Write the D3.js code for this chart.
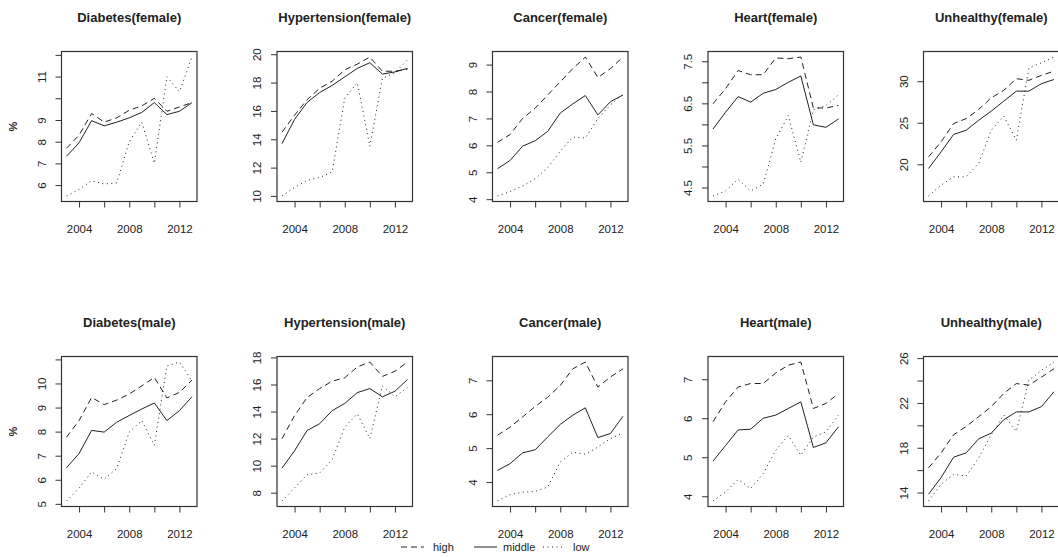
<!DOCTYPE html>
<html><head><meta charset="utf-8">
<script src="https://cdn.jsdelivr.net/npm/d3@7"></script>
<style>
body{margin:0;background:#fff}
svg text{font-family:"Liberation Sans",Arial,sans-serif;fill:#222}
</style>
</head><body>
<svg id="c" width="1058" height="557"></svg>
<script>
// ---------------- data ----------------
const years = [2003,2004,2005,2006,2007,2008,2009,2010,2011,2012,2013];
const xTicks = [2004,2006,2008,2010,2012];
const xTickLabels = ["2004","","2008","","2012"];
const diseases = ["Diabetes","Hypertension","Cancer","Heart","Unhealthy"];
const sexes = ["female","male"];
const seriesNames = ["high","middle","low"];

const diabetesFemaleHigh   = [7.7,8.3,9.3,8.9,9.1,9.45,9.65,10.0,9.4,9.6,9.8];
const diabetesFemaleMiddle = [7.33,7.95,8.97,8.73,8.9,9.1,9.35,9.8,9.25,9.4,9.8];
const diabetesFemaleLow    = [5.5,5.8,6.2,6.05,6.1,8.0,8.9,7.0,11.0,10.3,11.9];

const hypertensionFemaleHigh   = [14.5,15.7,16.8,17.6,18.1,18.9,19.3,19.8,18.8,18.8,18.95];
const hypertensionFemaleMiddle = [13.7,15.4,16.6,17.3,17.8,18.4,19.0,19.4,18.6,18.75,19.0];
const hypertensionFemaleLow    = [10.0,10.6,11.1,11.3,11.7,16.9,18.0,13.5,18.3,18.7,19.6];

const cancerFemaleHigh   = [6.11,6.4,7.0,7.38,7.87,8.36,8.85,9.28,8.52,8.85,9.28];
const cancerFemaleMiddle = [5.13,5.44,5.97,6.17,6.52,7.2,7.54,7.85,7.13,7.62,7.87];
const cancerFemaleLow    = [4.12,4.28,4.49,4.76,5.17,5.78,6.31,6.27,7.0,7.5,7.9];

const heartFemaleHigh   = [6.49,6.85,7.28,7.18,7.18,7.58,7.56,7.6,6.39,6.39,6.45];
const heartFemaleMiddle = [5.89,6.29,6.66,6.53,6.74,6.83,7.0,7.15,5.99,5.93,6.13];
const heartFemaleLow    = [4.3,4.42,4.7,4.42,4.58,5.65,6.21,5.1,6.35,6.45,6.7];

const unhealthyFemaleHigh   = [20.9,22.7,24.9,25.5,26.6,28.0,28.9,30.3,30.1,30.7,31.2];
const unhealthyFemaleMiddle = [19.5,21.5,23.6,24.1,25.3,26.4,27.6,28.8,28.8,29.7,30.2];
const unhealthyFemaleLow    = [16.2,17.5,18.5,18.5,20.1,24.1,25.8,22.9,31.6,32.2,32.9];

const diabetesMaleHigh   = [7.77,8.46,9.42,9.12,9.31,9.56,9.9,10.25,9.4,9.63,10.14];
const diabetesMaleMiddle = [6.5,7.09,8.05,7.98,8.39,8.67,8.94,9.19,8.46,8.87,9.45];
const diabetesMaleLow    = [5.12,5.65,6.33,6.02,6.47,7.98,8.46,7.43,10.73,10.89,10.11];

const hypertensionMaleHigh   = [12.0,13.7,15.04,15.7,16.25,16.5,17.3,17.66,16.6,16.98,17.66];
const hypertensionMaleMiddle = [9.82,11.1,12.6,13.1,14.07,14.6,15.4,15.7,15.09,15.5,16.37];
const hypertensionMaleLow    = [7.39,8.36,9.33,9.46,10.43,12.85,13.83,12.0,15.9,15.09,15.77];

const cancerMaleHigh   = [5.38,5.62,5.92,6.23,6.5,6.85,7.34,7.54,6.8,7.1,7.34];
const cancerMaleMiddle = [4.34,4.54,4.86,4.95,5.33,5.7,5.97,6.19,5.31,5.43,5.94];
const cancerMaleLow    = [3.44,3.63,3.7,3.72,3.85,4.59,4.88,4.82,5.03,5.28,5.45];

const heartMaleHigh   = [5.91,6.42,6.8,6.89,6.89,7.16,7.36,7.44,6.25,6.38,6.63];
const heartMaleMiddle = [4.9,5.3,5.7,5.72,6.0,6.08,6.25,6.42,5.25,5.37,5.78];
const heartMaleLow    = [3.88,4.11,4.43,4.2,4.58,5.18,5.56,5.05,5.52,5.65,6.08];

const unhealthyMaleHigh   = [16.2,17.54,19.16,19.9,20.78,21.67,22.85,23.73,23.59,24.3,25.06];
const unhealthyMaleMiddle = [13.85,15.33,17.16,17.54,18.8,19.3,20.5,21.2,21.2,21.67,23.0];
const unhealthyMaleLow    = [13.25,14.74,15.62,15.47,17.1,19.16,20.93,19.46,24.03,24.9,25.65];

// y-axis ticks and the labels R kept visible
const diabetesFemaleTicks = [6,7,8,9,10,11,12];
const diabetesFemaleTickLabels = ["6","7","8","9","","11",""];
const hypertensionFemaleTicks = [10,12,14,16,18,20];
const hypertensionFemaleTickLabels = ["10","12","14","16","18","20"];
const cancerFemaleTicks = [4,5,6,7,8,9];
const cancerFemaleTickLabels = ["4","5","6","7","8","9"];
const heartFemaleTicks = [4.5,5,5.5,6,6.5,7,7.5];
const heartFemaleTickLabels = ["4.5","","5.5","","6.5","","7.5"];
const unhealthyFemaleTicks = [20,25,30];
const unhealthyFemaleTickLabels = ["20","25","30"];
const diabetesMaleTicks = [5,6,7,8,9,10,11];
const diabetesMaleTickLabels = ["5","6","7","8","9","10",""];
const hypertensionMaleTicks = [8,10,12,14,16,18];
const hypertensionMaleTickLabels = ["8","10","12","14","16","18"];
const cancerMaleTicks = [4,5,6,7];
const cancerMaleTickLabels = ["4","5","6","7"];
const heartMaleTicks = [4,5,6,7];
const heartMaleTickLabels = ["4","5","6","7"];
const unhealthyMaleTicks = [14,16,18,20,22,24,26];
const unhealthyMaleTickLabels = ["14","","18","","22","","26"];

const yLabel = "%";

// ---------------- assemble ----------------
const panelData = {
  "Diabetes|female": [[diabetesFemaleHigh,diabetesFemaleMiddle,diabetesFemaleLow],diabetesFemaleTicks,diabetesFemaleTickLabels],
  "Hypertension|female": [[hypertensionFemaleHigh,hypertensionFemaleMiddle,hypertensionFemaleLow],hypertensionFemaleTicks,hypertensionFemaleTickLabels],
  "Cancer|female": [[cancerFemaleHigh,cancerFemaleMiddle,cancerFemaleLow],cancerFemaleTicks,cancerFemaleTickLabels],
  "Heart|female": [[heartFemaleHigh,heartFemaleMiddle,heartFemaleLow],heartFemaleTicks,heartFemaleTickLabels],
  "Unhealthy|female": [[unhealthyFemaleHigh,unhealthyFemaleMiddle,unhealthyFemaleLow],unhealthyFemaleTicks,unhealthyFemaleTickLabels],
  "Diabetes|male": [[diabetesMaleHigh,diabetesMaleMiddle,diabetesMaleLow],diabetesMaleTicks,diabetesMaleTickLabels],
  "Hypertension|male": [[hypertensionMaleHigh,hypertensionMaleMiddle,hypertensionMaleLow],hypertensionMaleTicks,hypertensionMaleTickLabels],
  "Cancer|male": [[cancerMaleHigh,cancerMaleMiddle,cancerMaleLow],cancerMaleTicks,cancerMaleTickLabels],
  "Heart|male": [[heartMaleHigh,heartMaleMiddle,heartMaleLow],heartMaleTicks,heartMaleTickLabels],
  "Unhealthy|male": [[unhealthyMaleHigh,unhealthyMaleMiddle,unhealthyMaleLow],unhealthyMaleTicks,unhealthyMaleTickLabels]
};

// ---------------- layout ----------------
const svg = d3.select("#c");
const colStep = 215.5, left0 = 61.5, boxW = 135.5, boxH = 150;
const rowTops = [51.5, 356.5];
const dashes = {high:"6,4", middle:null, low:"1,3.5"};
const ink = "#222";

function pad(ext){ const r = ext[1]-ext[0]; return [ext[0]-0.04*r, ext[1]+0.04*r]; }

sexes.forEach((sex, r) => {
  diseases.forEach((dis, c) => {
    const [series, ticks, tickLabels] = panelData[dis+"|"+sex];
    const x0 = left0 + c*colStep, y0 = rowTops[r];
    const g = svg.append("g").attr("transform",`translate(${x0},${y0})`);
    const x = d3.scaleLinear().domain(pad(d3.extent(years))).range([0,boxW]);
    const allVals = series.flat();
    const y = d3.scaleLinear().domain(pad(d3.extent(allVals))).range([boxH,0]);

    // lines
    const line = d3.line().x((d,i)=>x(years[i])).y(d=>y(d));
    series.forEach((s, k) => {
      g.append("path").datum(s).attr("d", line)
        .attr("fill","none").attr("stroke", ink).attr("stroke-width",1)
        .attr("stroke-dasharray", dashes[seriesNames[k]]);
    });

    // box
    g.append("rect").attr("x",0).attr("y",0).attr("width",boxW).attr("height",boxH)
      .attr("fill","none").attr("stroke","#333").attr("stroke-width",1.2);

    // x axis
    const xa = g.append("g").attr("transform",`translate(0,${boxH})`)
      .call(d3.axisBottom(x).tickValues(xTicks).tickSize(6)
        .tickFormat((d,i)=>xTickLabels[i]));
    xa.select(".domain").remove();
    xa.selectAll("line").attr("stroke","#333");
    xa.selectAll("text").attr("y",31).attr("dy",0).attr("font-size",11.5)
      .attr("font-family",null).attr("fill","#333");

    // y axis
    const ya = g.append("g")
      .call(d3.axisLeft(y).tickValues(ticks).tickSize(6)
        .tickFormat((d,i)=>tickLabels[i]));
    ya.select(".domain").remove();
    ya.selectAll("line").attr("stroke","#333");
    ya.selectAll("text").attr("x",0).attr("y",-16).attr("dy",0)
      .attr("transform","rotate(-90)").attr("text-anchor","middle")
      .attr("font-size",11.5).attr("font-family",null).attr("fill","#333");

    // title
    g.append("text").attr("x",boxW/2).attr("y",-29.5).attr("text-anchor","middle")
      .attr("font-weight","bold").attr("font-size",13).text(`${dis}(${sex})`);

    if (c === 0) {
      g.append("text").attr("transform",`translate(${-x0+17},${boxH/2}) rotate(-90)`)
        .attr("text-anchor","middle").attr("font-size",11).attr("font-weight","bold")
        .text(yLabel);
    }
  });
});

// legend
const leg = svg.append("g").attr("transform","translate(0,547)");
const legItems = [
  {name:"high", x1:401, x2:424, tx:433},
  {name:"middle", x1:474, x2:497, tx:503},
  {name:"low", x1:543, x2:565, tx:573}
];
legItems.forEach(it => {
  leg.append("line").attr("x1",it.x1).attr("x2",it.x2).attr("y1",0).attr("y2",0)
    .attr("stroke",ink).attr("stroke-width",1).attr("stroke-dasharray",dashes[it.name]);
  leg.append("text").attr("x",it.tx).attr("y",4).attr("font-size",11).attr("fill","#333").text(it.name);
});
</script>
</body></html>
